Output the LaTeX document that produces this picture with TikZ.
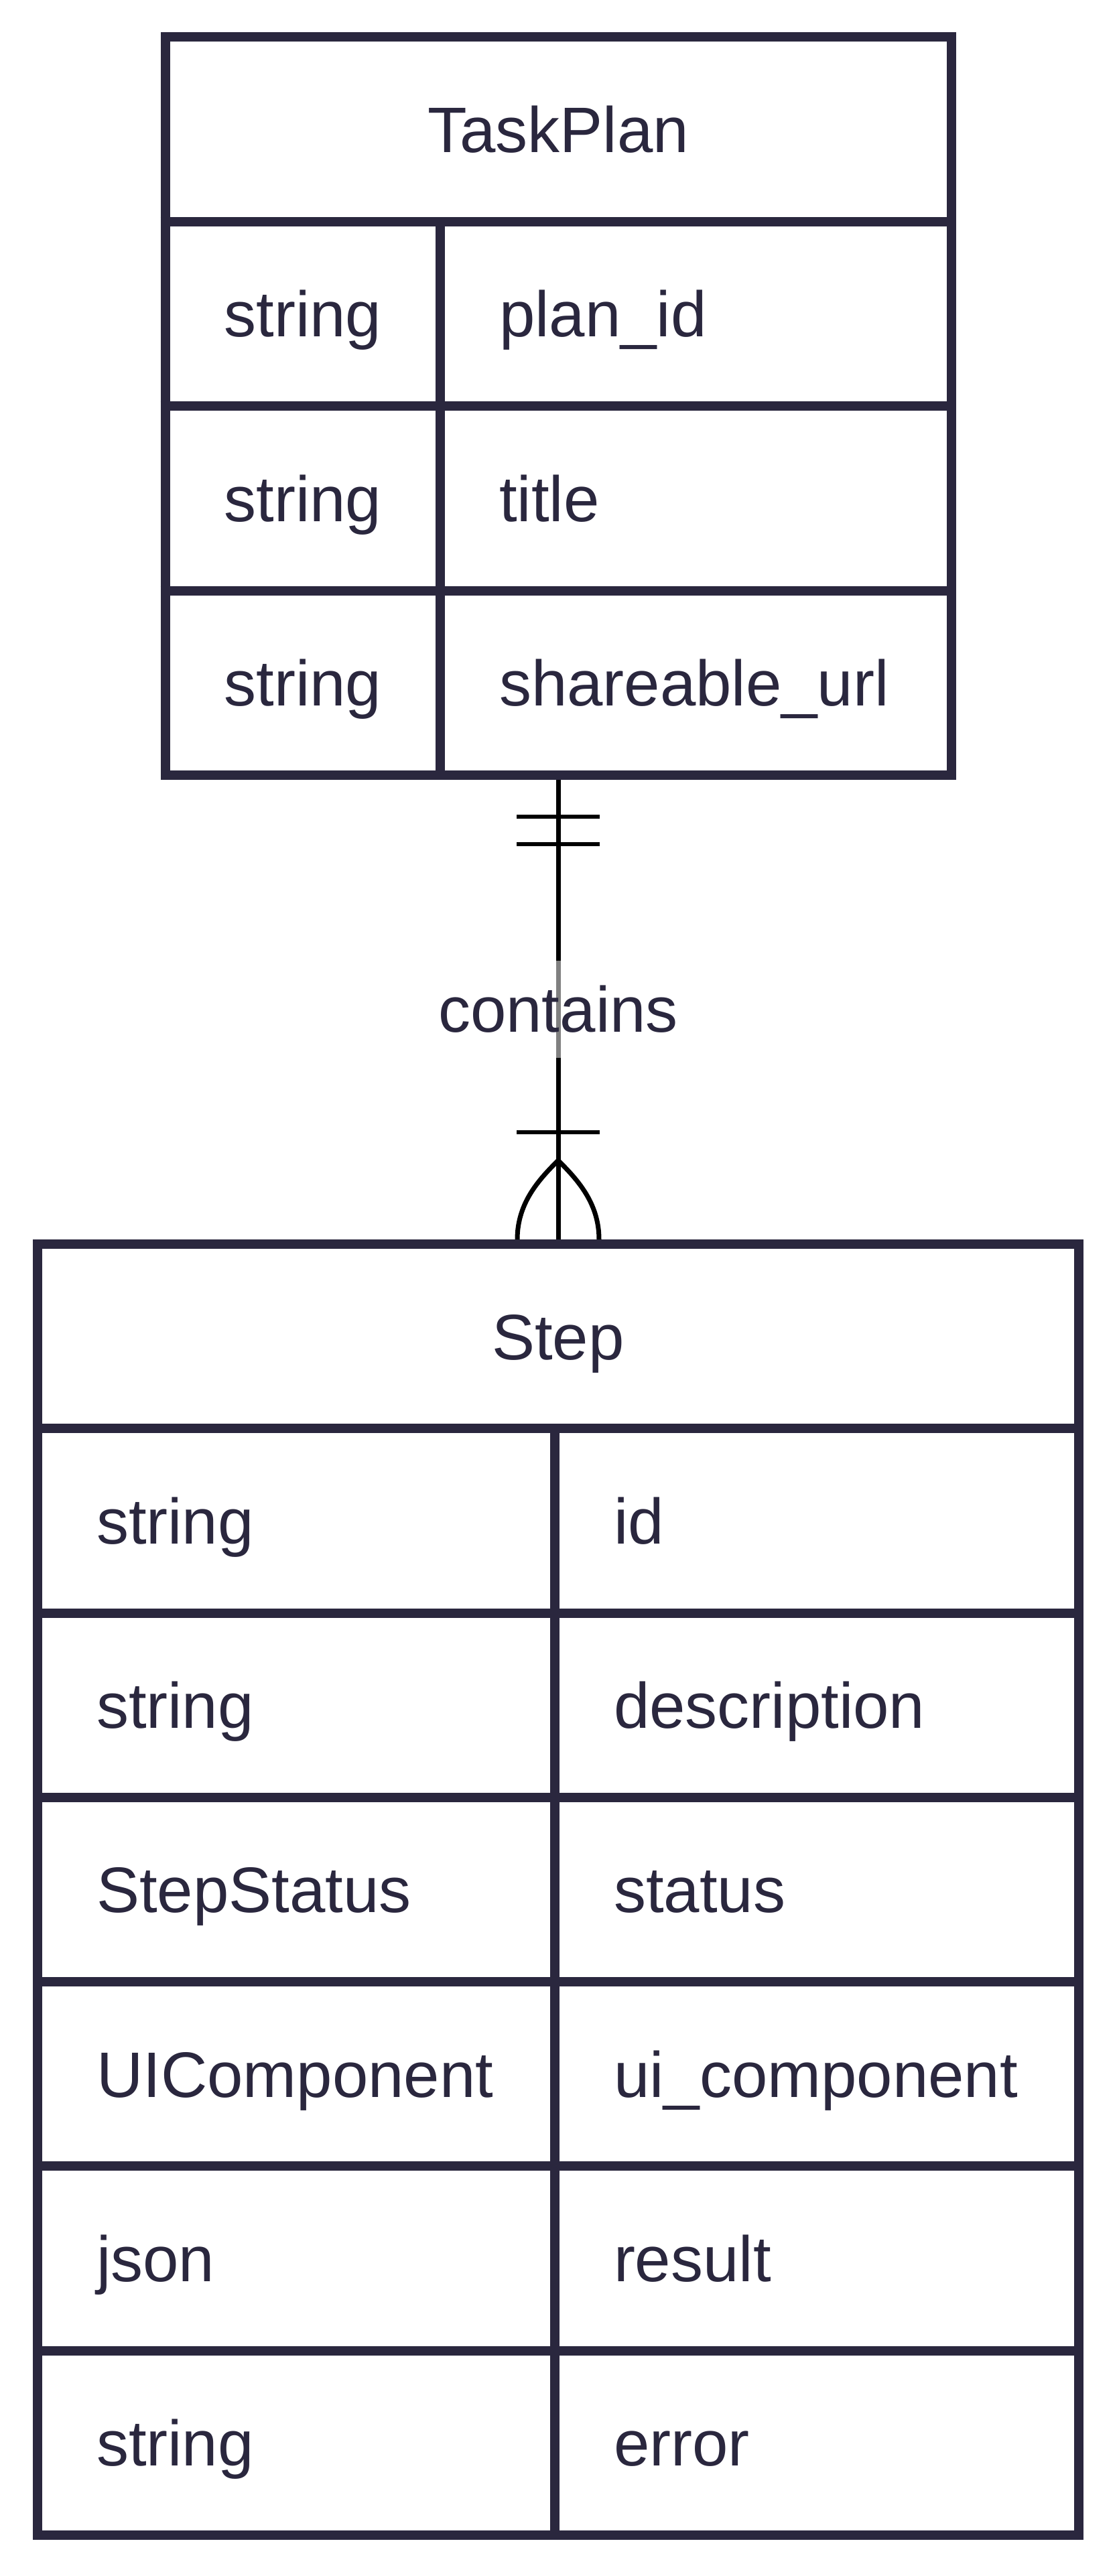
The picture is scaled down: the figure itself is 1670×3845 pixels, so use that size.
\documentclass[tikz,border=0pt]{standalone}
\usepackage{fontspec}
\setmainfont{Liberation Sans}
\usetikzlibrary{calc}
\definecolor{ink}{RGB}{42,39,62}
\tikzset{
  entbox/.style={draw=ink, line width=7pt, fill=white, inner sep=0pt, outer sep=3.5pt},
  gridline/.style={draw=ink, line width=7pt},
  txt/.style={text=ink, inner sep=0pt, outer sep=0pt, anchor=base west, font=\fontsize{48pt}{58pt}\selectfont},
  ttl/.style={txt, anchor=base},
  rel/.style={draw=black, line width=3.5pt},
  bar/.style={draw=black, line width=3.3pt},
  lbl/.style={fill=white, fill opacity=0.5, text opacity=1, text=ink, inner sep=0pt,
    minimum width=177.5pt, minimum height=72.5pt, font=\fontsize{48pt}{58pt}\selectfont}
}
\begin{document}
\begin{tikzpicture}[x=0.5pt,y=-0.5pt]
\useasboundingbox[fill=white] (0,0) rectangle (1670,3845);

% connector first (boxes drawn over it)
\path (833,606) node[minimum width=586.5pt, minimum height=551pt, inner sep=0pt, outer sep=3.5pt] (tp) {};
\path (833,2820.5) node[minimum width=777pt, minimum height=963.5pt, inner sep=0pt, outer sep=3.5pt] (st) {};
\draw[rel] (tp.south) -- (st.north);

% entity TaskPlan
\node[entbox, minimum width=586.5pt, minimum height=551pt] (tpbox) at (tp.center) {};
\draw[gridline] (tpbox.west |- 0,330.5) -- (tpbox.east |- 0,330.5);
\draw[gridline] (tpbox.west |- 0,606) -- (tpbox.east |- 0,606);
\draw[gridline] (tpbox.west |- 0,881.5) -- (tpbox.east |- 0,881.5);
\draw[gridline] (657,330.5) -- (657,1157);
\node[ttl] (tpname) at (833,227) {TaskPlan};
\node[txt] (tpt1) at (334.5,502.6) {string};
\node[txt] (tpn1) at (745,502.6) {plan\_id};
\node[txt] (tpt2) at (334.5,778.1) {string};
\node[txt] (tpn2) at (745,778.1) {title};
\node[txt] (tpt3) at (334.5,1053.6) {string};
\node[txt] (tpn3) at (745,1053.6) {shareable\_url};

% entity Step
\node[entbox, minimum width=777pt, minimum height=963.5pt] (stbox) at (st.center) {};
\foreach \yy in {2132.3,2407.6,2682.9,2958.1,3233.4,3508.7}{
  \draw[gridline] (stbox.west |- 0,\yy) -- (stbox.east |- 0,\yy);
}
\draw[gridline] (828,2132.3) -- (828,3784);
\node[ttl] (stname) at (833,2029) {Step};
\node[txt] (stt1) at (144,2304.4) {string};
\node[txt] (stn1) at (916,2304.4) {id};
\node[txt] (stt2) at (144,2579.6) {string};
\node[txt] (stn2) at (916,2579.6) {description};
\node[txt] (stt3) at (144,2854.9) {StepStatus};
\node[txt] (stn3) at (916,2854.9) {status};
\node[txt] (stt4) at (144,3130.2) {UIComponent};
\node[txt] (stn4) at (916,3130.2) {ui\_component};
\node[txt] (stt5) at (144,3405.5) {json};
\node[txt] (stn5) at (916,3405.5) {result};
\node[txt] (stt6) at (144,3680.8) {string};
\node[txt] (stn6) at (916,3680.8) {error};

% cardinality marks: exactly one at TaskPlan
\draw[bar] ($(tp.south)+(-62,55)$) -- ($(tp.south)+(62,55)$);
\draw[bar] ($(tp.south)+(-62,96)$) -- ($(tp.south)+(62,96)$);
% one or more at Step
\draw[bar] ($(st.north)+(-62,-160)$) -- ($(st.north)+(62,-160)$);
\draw[rel] ($(st.north)+(-61,0)$) .. controls ($(st.north)+(-61,-55)$) and ($(st.north)+(-28,-90)$) .. ($(st.north)+(0,-118)$)
  .. controls ($(st.north)+(28,-90)$) and ($(st.north)+(61,-55)$) .. ($(st.north)+(61,0)$);

% label
\node[lbl] (contains) at (833,1506.5) {contains};
\end{tikzpicture}
\end{document}
